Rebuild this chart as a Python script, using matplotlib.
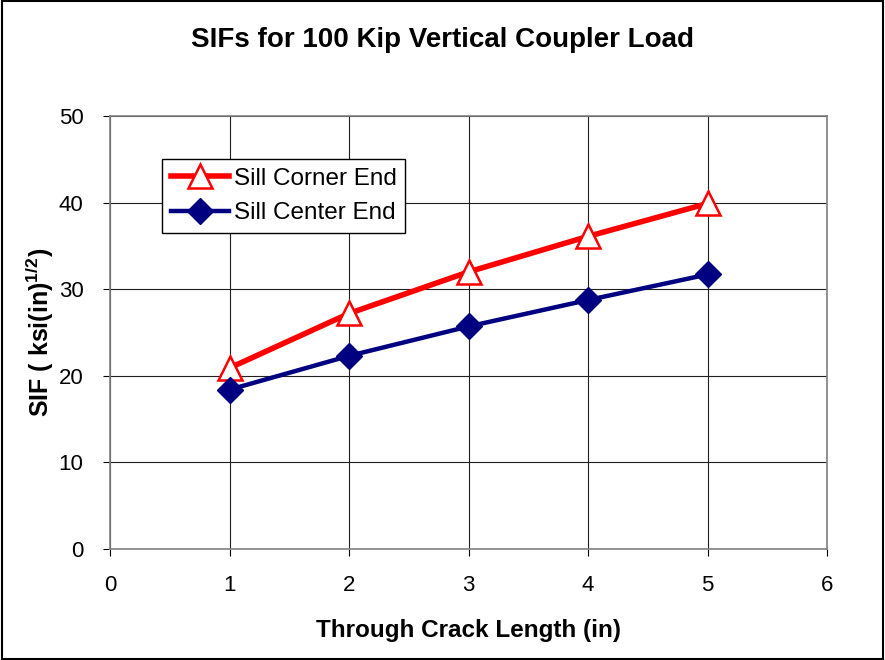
import matplotlib
matplotlib.use("Agg")
import matplotlib.pyplot as plt
from matplotlib.patches import Rectangle

plt.rcParams['font.family'] = ['Liberation Sans', 'DejaVu Sans']
plt.rcParams['mathtext.fontset'] = 'custom'
plt.rcParams['mathtext.rm'] = 'Liberation Sans'
plt.rcParams['mathtext.bf'] = 'Liberation Sans:bold'

# data
crack_len = [1, 2, 3, 4, 5]
corner_end = [20.9, 27.2, 32.0, 36.1, 39.9]
center_end = [18.4, 22.3, 25.7, 28.75, 31.7]

fig = plt.figure(figsize=(8.85, 6.6), dpi=100)
ax = fig.add_axes([0.1243, 0.1682, 0.8102, 0.656])

ax.plot(crack_len, corner_end, color='#ff0000', lw=4, marker='^', ms=17,
        mfc='white', mec='#ff0000', mew=1.8, label='Sill Corner End', zorder=3)
ax.plot(crack_len, center_end, color='#000080', lw=3.2, marker='D', ms=13,
        mfc='#000080', mec='#000080', label='Sill Center End', zorder=3)

ax.set_xlim(0, 6)
ax.set_ylim(0, 50)
ax.set_xticks(range(0, 7))
ax.set_yticks(range(0, 51, 10))
ax.grid(True, color='#202020', lw=0.8)
ax.set_axisbelow(True)
for s in ax.spines.values():
    s.set_color('#808080')
    s.set_linewidth(1.2)
ax.tick_params(direction='out', length=5, labelsize=16, color='black', pad=14)

fig.text(0.5, 0.94, 'SIFs for 100 Kip Vertical Coupler Load', fontsize=20,
         fontweight='bold', ha='center', va='center')
ax.set_xlabel('Through Crack Length (in)', fontsize=17.5, fontweight='bold', labelpad=16)
ax.set_ylabel(r'SIF ( ksi(in)$^{\mathbf{1/2}}$)', fontsize=18, fontweight='bold', labelpad=2)

leg = ax.legend(loc='upper left', bbox_to_anchor=(0.073, 0.9), fontsize=17.5,
                fancybox=False, framealpha=1, edgecolor='black',
                handlelength=2.4, borderpad=0.35, labelspacing=0.5,
                handletextpad=0.2, borderaxespad=0)
leg.get_frame().set_linewidth(1.0)

fig.patches.append(Rectangle((0.002, 0.002), 0.996, 0.996, transform=fig.transFigure,
                             fill=False, edgecolor='black', lw=1.5))

fig.savefig('out.png', dpi=100)
